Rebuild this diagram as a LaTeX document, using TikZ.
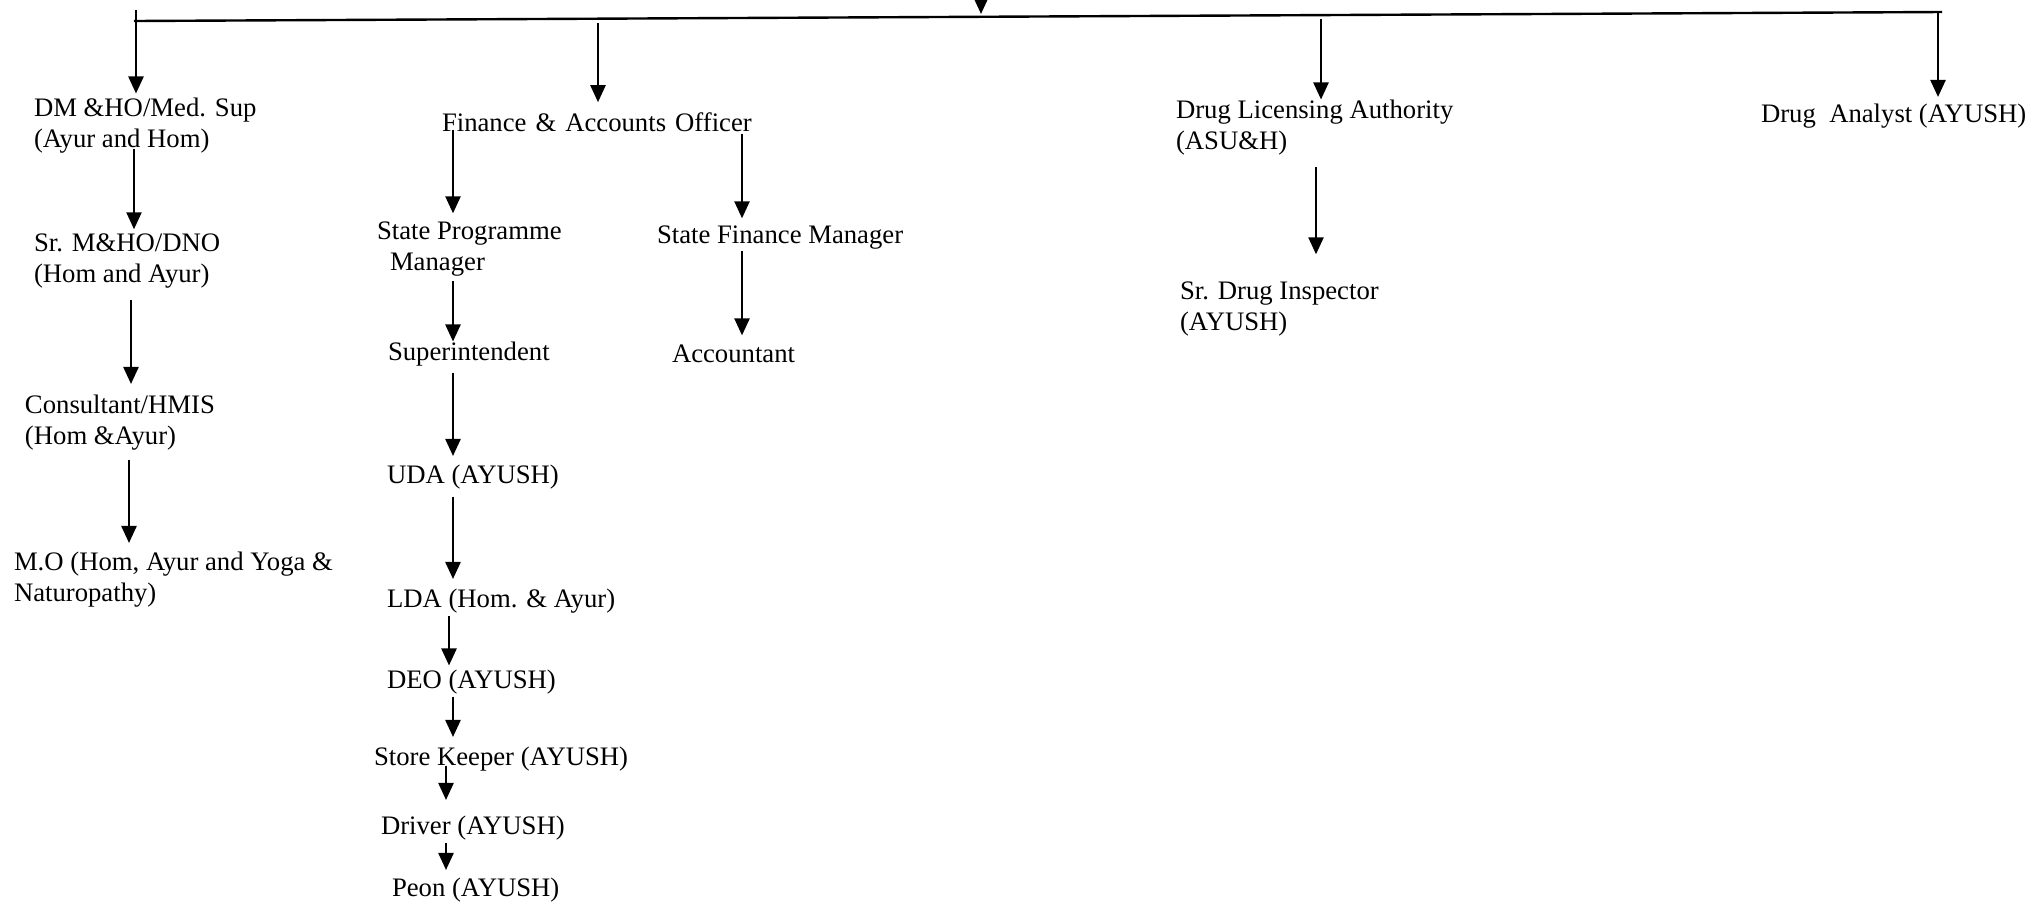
\documentclass[tikz,border=0pt]{standalone}
\usepackage{fontspec}
\setmainfont{Liberation Serif}
\usetikzlibrary{arrows.meta}

\begin{document}
\begin{tikzpicture}[x=0.5pt,y=-0.5pt,font=\fontsize{13.35}{15.5}\selectfont]
      \useasboundingbox (0,0) rectangle (2037,901);
      \begin{scope}[every node/.style={inner sep=0pt,outer sep=0pt,align=left,anchor=base west}]
        % left column (two-line nodes sit on their last line)
        \node (dm) at (34,147) {DM \&HO/Med. Sup\\(Ayur and Hom)};
        \node (sr) at (34,282) {Sr. M\&HO/DNO\\(Hom and Ayur)};
        \node (cons) at (25,444) {Consultant/HMIS\\(Hom \&Ayur)};
        \node (mo) at (14,601) {M.O (Hom, Ayur and Yoga \&\\Naturopathy)};
        % finance column
        \node (fao) at (442,131) {Finance\hspace{4.5pt}\&\hspace{4.5pt}Accounts\hspace{4.5pt}Officer};
        \node (spm) at (377,270) {State Programme\\\hspace{6.5pt}Manager};
        \node (sup) at (388,360) {Superintendent};
        \node (uda) at (387,483) {UDA (AYUSH)};
        \node (lda) at (387,607) {LDA (Hom. \& Ayur)};
        \node (deo) at (387,688) {DEO (AYUSH)};
        \node (sk) at (374,765) {Store Keeper (AYUSH)};
        \node (drv) at (381,834) {Driver (AYUSH)};
        \node (peon) at (392,896) {Peon (AYUSH)};
        \node (sfm) at (657,243) {State Finance Manager};
        \node (acc) at (672,362) {Accountant};
        % drugs
        \node (dla) at (1176,149) {Drug Licensing Authority\\(ASU\&H)};
        \node (sdi) at (1180,330) {Sr. Drug Inspector\\(AYUSH)};
        \node (da) at (1761,122) {Drug\ \ Analyst (AYUSH)};
      \end{scope}
      \coordinate (top) at (981,0);
      \coordinate (topend) at (981,14);
      \coordinate (bl) at (134,21);
      \coordinate (br) at (1942,12);
      \coordinate (d1) at (136,10);
      \coordinate (d2) at (598,23);
      \coordinate (d3) at (1321,19);
      \coordinate (d4) at (1938,13);
      \draw[line width=1.2pt] (bl) -- (br);
      \begin{scope}
        [every edge/.style={draw,line width=1.2pt,-{Triangle[length=8.5pt,width=7.5pt]}}]
        \path (top) edge (topend);
        \path (d1) edge[shorten >=2pt] (dm.north -| 136,0);
        \path (d2) edge[shorten >=5pt] (fao.north -| 598,0);
        \path (d3) edge (dla.north -| 1321,0);
        \path (d4) edge[shorten >=3.25pt] (da.north -| 1938,0);
        \path (dm.south -| 134,0) edge[shorten <=-2pt,shorten >=2pt] (sr.north -| 134,0);
        \path (sr.south -| 131,0) edge[shorten <=6pt,shorten >=5.25pt] (cons.north -| 131,0);
        \path (cons.south -| 129,0) edge[shorten <=5pt,shorten >=4.25pt] (mo.north -| 129,0);
        \path (fao.south -| 453,0) edge[shorten <=-0.5pt,shorten >=4pt] (spm.north -| 453,0);
        \path (fao.south -| 742,0) edge[shorten <=1.5pt,shorten >=3.5pt] (sfm.north -| 742,0);
        \path (spm.south -| 453,0) edge[shorten <=2.5pt] (sup.north -| 453,0);
        \path (sup.south -| 453,0) edge[shorten <=3.5pt,shorten >=4.25pt] (uda.north -| 453,0);
        \path (uda.south -| 453,0) edge[shorten <=4pt,shorten >=4.75pt] (lda.north -| 453,0);
        \path (lda.south -| 449,0) edge[shorten <=1.5pt,shorten >=2pt] (deo.north -| 449,0);
        \path (deo.south -| 453,0) edge[shorten <=1.5pt,shorten >=4.75pt] (sk.north -| 453,0);
        \path (sk.south -| 446,0) edge[shorten <=-2.5pt,shorten >=7.75pt] (drv.north -| 446,0);
        \path (drv.south -| 446,0) edge[shorten <=1.5pt,shorten >=3.75pt] (peon.north -| 446,0);
        \path (sfm.south -| 742,0) edge[shorten <=1pt,shorten >=4.5pt] (acc.north -| 742,0);
        \path (dla.south -| 1316,0) edge[shorten <=6pt,shorten >=13.5pt] (sdi.north -| 1316,0);
      \end{scope}
    \end{tikzpicture}
\end{document}
